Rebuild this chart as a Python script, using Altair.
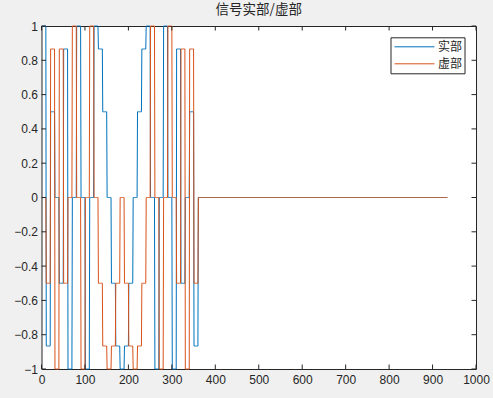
import altair as alt
import numpy as np
import pandas as pd

# symbol values (one value per 10-sample symbol)
real_part = [1, -0.866, 0.5, 0, -0.5, 0.866, -1, 0, 1, 0, -1, 0, 1, 0.866, 0.5, 0,
             -0.5, -0.866, -1, -0.866, -0.5, 0, 0.5, 0.866, 1, 0, -1, 0, 1, 0, -1,
             0.866, -0.5, 0, 0.5, -0.866]
imag_part = [0, -0.5, 0.866, -1, 0.866, -0.5, 0, 1, 0, -1, 0, 1, 0, -0.5, -0.866, -1,
             -0.866, -0.5, 0, -0.5, -0.866, -1, -0.866, -0.5, 0, 1, 0, -1, 0, 1, 0,
             -0.5, 0.866, -1, 0.866, -0.5]
samples_per_symbol = 10
total_samples = 934
series_names = ["实部", "虚部"]
series_colors = ["#0072BD", "#D95319"]
x_ticks = [0, 100, 200, 300, 400, 500, 600, 700, 800, 900, 1000]
y_ticks = [-1, -0.8, -0.6, -0.4, -0.2, 0, 0.2, 0.4, 0.6, 0.8, 1]
title_text = "信号实部/虚部"

n_active = len(real_part) * samples_per_symbol
x_idx = np.arange(1, total_samples + 1)
re = np.concatenate([np.repeat(real_part, samples_per_symbol), np.zeros(total_samples - n_active)])
im = np.concatenate([np.repeat(imag_part, samples_per_symbol), np.zeros(total_samples - n_active)])

df = pd.concat([
    pd.DataFrame({"x": x_idx, "v": re, "s": series_names[0], "o": 0}),
    pd.DataFrame({"x": x_idx, "v": im, "s": series_names[1], "o": 1}),
])

W, H = 434.5, 343
TL = 4.5
AX = "#262626"

xs = alt.Scale(domain=[0, 1000], nice=False, zero=False)
ys = alt.Scale(domain=[-1, 1], nice=False, zero=False)
x_axis = alt.Axis(values=x_ticks, format="d", title=None, grid=False, domain=False, ticks=False,
                  labelFont="Liberation Sans", labelFontSize=12, labelColor=AX, labelPadding=5,
                  labelFlush=False, labelOverlap=False)
y_axis = alt.Axis(values=y_ticks, format="~g", title=None, grid=False, domain=False, ticks=False,
                  labelFont="Liberation Sans", labelFontSize=12, labelColor=AX, labelPadding=4,
                  labelFlush=False, labelOverlap=False)

lines = alt.Chart(df).mark_line(strokeWidth=1, clip=False).encode(
    x=alt.X("x:Q", scale=xs, axis=x_axis, title=None),
    y=alt.Y("v:Q", scale=ys, axis=y_axis, title=None),
    color=alt.Color("s:N", scale=alt.Scale(domain=series_names, range=series_colors),
                    legend=alt.Legend(title=None, orient="none", legendX=349, legendY=11.3,
                                      symbolType="stroke", symbolSize=1600, symbolStrokeWidth=1,
                                      clipHeight=15, rowPadding=2, padding=2, symbolOffset=1.5,
                                      labelOffset=3, fillColor="white", strokeColor=AX,
                                      labelFont="Noto Sans CJK SC", labelFontSize=12,
                                      labelColor=AX)),
    order="o:Q",
)

xt = pd.DataFrame({"t": x_ticks})
yt = pd.DataFrame({"t": y_ticks})
tick_bottom = alt.Chart(xt).mark_rule(color=AX, strokeWidth=1).encode(
    x=alt.X("t:Q", scale=xs, axis=x_axis, title=None), y=alt.value(H), y2=alt.value(H - TL))
tick_top = alt.Chart(xt).mark_rule(color=AX, strokeWidth=1).encode(
    x=alt.X("t:Q", scale=xs, axis=x_axis, title=None), y=alt.value(0), y2=alt.value(TL))
tick_left = alt.Chart(yt).mark_rule(color=AX, strokeWidth=1).encode(
    y=alt.Y("t:Q", scale=ys, axis=y_axis, title=None), x=alt.value(0), x2=alt.value(TL))
tick_right = alt.Chart(yt).mark_rule(color=AX, strokeWidth=1).encode(
    y=alt.Y("t:Q", scale=ys, axis=y_axis, title=None), x=alt.value(W), x2=alt.value(W - TL))

chart = alt.layer(lines, tick_bottom, tick_top, tick_left, tick_right).properties(
    width=W, height=H,
    title=alt.TitleParams(title_text, font="Noto Sans CJK SC", fontSize=13.5, fontWeight="normal",
                          color=AX, anchor="middle", offset=3.5),
    autosize=alt.AutoSizeParams(type="none"),
    padding={"left": 41.5, "top": 26, "right": 17, "bottom": 29},
    background="#F0F0F0",
).configure_view(fill="white", stroke=AX, strokeWidth=1).configure_axis(labelOverlap=False)

chart.save("out.html", embed_options={"renderer": "svg", "actions": False})
